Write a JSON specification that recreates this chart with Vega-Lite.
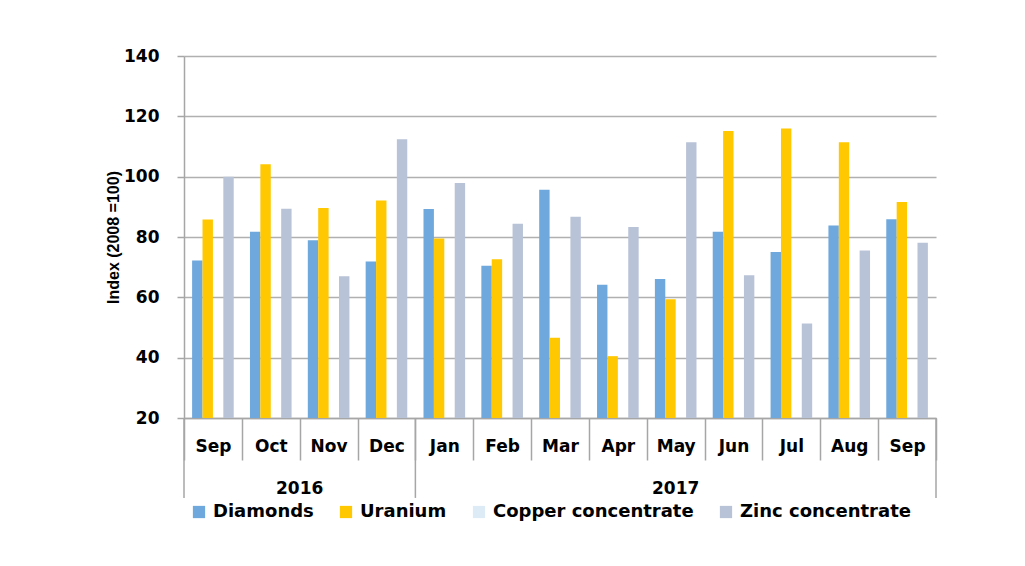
{
  "$schema": "https://vega.github.io/schema/vega-lite/v6.json",
  "width": 752,
  "height": 362,
  "autosize": {"type": "none"},
  "padding": {"left": 184, "top": 56, "right": 89, "bottom": 148},
  "background": "white",
  "config": {"view": {"stroke": null}, "font": "DejaVu Sans"},
  "datasets": {
    "bars": [
      {"period": "Sep 2016", "series": "Diamonds", "value": 72.2},
      {"period": "Sep 2016", "series": "Uranium", "value": 85.8},
      {"period": "Sep 2016", "series": "Copper concentrate", "value": 20},
      {"period": "Sep 2016", "series": "Zinc concentrate", "value": 100.0},
      {"period": "Oct 2016", "series": "Diamonds", "value": 81.7},
      {"period": "Oct 2016", "series": "Uranium", "value": 104.1},
      {"period": "Oct 2016", "series": "Copper concentrate", "value": 20},
      {"period": "Oct 2016", "series": "Zinc concentrate", "value": 89.4},
      {"period": "Nov 2016", "series": "Diamonds", "value": 78.9},
      {"period": "Nov 2016", "series": "Uranium", "value": 89.6},
      {"period": "Nov 2016", "series": "Copper concentrate", "value": 20},
      {"period": "Nov 2016", "series": "Zinc concentrate", "value": 67.0},
      {"period": "Dec 2016", "series": "Diamonds", "value": 71.9},
      {"period": "Dec 2016", "series": "Uranium", "value": 92.1},
      {"period": "Dec 2016", "series": "Copper concentrate", "value": 20},
      {"period": "Dec 2016", "series": "Zinc concentrate", "value": 112.4},
      {"period": "Jan 2017", "series": "Diamonds", "value": 89.3},
      {"period": "Jan 2017", "series": "Uranium", "value": 79.5},
      {"period": "Jan 2017", "series": "Copper concentrate", "value": 20},
      {"period": "Jan 2017", "series": "Zinc concentrate", "value": 97.9},
      {"period": "Feb 2017", "series": "Diamonds", "value": 70.5},
      {"period": "Feb 2017", "series": "Uranium", "value": 72.6},
      {"period": "Feb 2017", "series": "Copper concentrate", "value": 20},
      {"period": "Feb 2017", "series": "Zinc concentrate", "value": 84.4},
      {"period": "Mar 2017", "series": "Diamonds", "value": 95.7},
      {"period": "Mar 2017", "series": "Uranium", "value": 46.6},
      {"period": "Mar 2017", "series": "Copper concentrate", "value": 20},
      {"period": "Mar 2017", "series": "Zinc concentrate", "value": 86.7},
      {"period": "Apr 2017", "series": "Diamonds", "value": 64.2},
      {"period": "Apr 2017", "series": "Uranium", "value": 40.5},
      {"period": "Apr 2017", "series": "Copper concentrate", "value": 20},
      {"period": "Apr 2017", "series": "Zinc concentrate", "value": 83.3},
      {"period": "May 2017", "series": "Diamonds", "value": 66.1},
      {"period": "May 2017", "series": "Uranium", "value": 59.4},
      {"period": "May 2017", "series": "Copper concentrate", "value": 20},
      {"period": "May 2017", "series": "Zinc concentrate", "value": 111.4},
      {"period": "Jun 2017", "series": "Diamonds", "value": 81.7},
      {"period": "Jun 2017", "series": "Uranium", "value": 115.1},
      {"period": "Jun 2017", "series": "Copper concentrate", "value": 20},
      {"period": "Jun 2017", "series": "Zinc concentrate", "value": 67.3},
      {"period": "Jul 2017", "series": "Diamonds", "value": 75.0},
      {"period": "Jul 2017", "series": "Uranium", "value": 116.0},
      {"period": "Jul 2017", "series": "Copper concentrate", "value": 20},
      {"period": "Jul 2017", "series": "Zinc concentrate", "value": 51.3},
      {"period": "Aug 2017", "series": "Diamonds", "value": 83.8},
      {"period": "Aug 2017", "series": "Uranium", "value": 111.4},
      {"period": "Aug 2017", "series": "Copper concentrate", "value": 20},
      {"period": "Aug 2017", "series": "Zinc concentrate", "value": 75.5},
      {"period": "Sep 2017", "series": "Diamonds", "value": 85.9},
      {"period": "Sep 2017", "series": "Uranium", "value": 91.6},
      {"period": "Sep 2017", "series": "Copper concentrate", "value": 20},
      {"period": "Sep 2017", "series": "Zinc concentrate", "value": 78.1}
    ],
    "yearStarts": [
      {"period": "Sep 2016"},
      {"period": "Jan 2017"}
    ],
    "yearEnds": [
      {"period": "Sep 2017"}
    ],
    "year2016": [{"period": "Oct 2016", "year": "2016"}],
    "year2017": [{"period": "May 2017", "year": "2017"}]
  },
  "layer": [
    {
      "data": {"name": "bars"},
      "mark": {"type": "bar"},
      "encoding": {
        "x": {
          "field": "period",
          "type": "nominal",
          "sort": ["Sep 2016", "Oct 2016", "Nov 2016", "Dec 2016", "Jan 2017", "Feb 2017", "Mar 2017", "Apr 2017", "May 2017", "Jun 2017", "Jul 2017", "Aug 2017", "Sep 2017"],
          "scale": {"paddingInner": 0, "paddingOuter": 0},
          "axis": {
            "title": null,
            "labelExpr": "slice(datum.label, 0, 3)",
            "labelAngle": 0,
            "tickBand": "extent",
            "tickSize": 42,
            "tickColor": "#a6a6a6",
            "tickWidth": 1.5,
            "domainColor": "#a6a6a6",
            "domainWidth": 1.5,
            "labelFont": "DejaVu Sans",
            "labelFontWeight": "bold",
            "labelFontSize": 17,
            "labelColor": "#000000",
            "labelPadding": -22,
            "labelBaseline": "top"
          }
        },
        "xOffset": {
          "field": "series",
          "sort": ["Diamonds", "Uranium", "Copper concentrate", "Zinc concentrate"],
          "scale": {"paddingInner": 0, "paddingOuter": 0.78}
        },
        "y": {
          "field": "value",
          "type": "quantitative",
          "scale": {"domain": [20, 140], "nice": false, "zero": false},
          "axis": {
            "title": "Index (2008 =100)",
            "titleFont": "Liberation Sans",
            "titleFontWeight": "bold",
            "titleFontSize": 16,
            "titleColor": "#000000",
            "titlePadding": 2,
            "values": [20, 40, 60, 80, 100, 120, 140],
            "labelFont": "DejaVu Sans",
            "labelFontWeight": "bold",
            "labelFontSize": 17,
            "labelColor": "#000000",
            "labelPadding": 18,
            "tickSize": 7,
            "tickColor": "#a6a6a6",
            "tickWidth": 1.5,
            "domainColor": "#a6a6a6",
            "domainWidth": 1.5,
            "grid": true,
            "gridColor": "#b0b0b0",
            "gridWidth": 1.5
          }
        },
        "y2": {"datum": 20},
        "color": {
          "field": "series",
          "type": "nominal",
          "sort": ["Diamonds", "Uranium", "Copper concentrate", "Zinc concentrate"],
          "scale": {
            "domain": ["Diamonds", "Uranium", "Copper concentrate", "Zinc concentrate"],
            "range": ["#6fa8dc", "#ffc800", "#ddebf7", "#b9c3d7"]
          },
          "legend": {
            "title": null,
            "orient": "none",
            "legendX": 6,
            "legendY": 447,
            "direction": "horizontal",
            "columns": 4,
            "symbolType": "square",
            "symbolSize": 150,
            "symbolStrokeWidth": 0,
            "labelFont": "DejaVu Sans",
            "labelFontWeight": "bold",
            "labelFontSize": 18,
            "labelColor": "#000000",
            "labelLimit": 0,
            "labelOffset": 5,
            "columnPadding": 23
          }
        }
      }
    },
    {
      "data": {"name": "yearStarts"},
      "mark": {"type": "rule", "color": "#a6a6a6", "strokeWidth": 1.5},
      "encoding": {
        "x": {"field": "period", "type": "nominal", "bandPosition": 0,
          "sort": ["Sep 2016", "Oct 2016", "Nov 2016", "Dec 2016", "Jan 2017", "Feb 2017", "Mar 2017", "Apr 2017", "May 2017", "Jun 2017", "Jul 2017", "Aug 2017", "Sep 2017"]},
        "y": {"datum": 20},
        "y2": {"datum": -6.5}
      }
    },
    {
      "data": {"name": "yearEnds"},
      "mark": {"type": "rule", "color": "#a6a6a6", "strokeWidth": 1.5},
      "encoding": {
        "x": {"field": "period", "type": "nominal", "bandPosition": 1,
          "sort": ["Sep 2016", "Oct 2016", "Nov 2016", "Dec 2016", "Jan 2017", "Feb 2017", "Mar 2017", "Apr 2017", "May 2017", "Jun 2017", "Jul 2017", "Aug 2017", "Sep 2017"]},
        "y": {"datum": 20},
        "y2": {"datum": -6.5}
      }
    },
    {
      "data": {"name": "year2016"},
      "mark": {"type": "text", "font": "DejaVu Sans", "fontWeight": "bold", "fontSize": 17, "color": "#000000", "baseline": "middle", "align": "center", "dy": 71},
      "encoding": {
        "x": {"field": "period", "type": "nominal", "bandPosition": 1,
          "sort": ["Sep 2016", "Oct 2016", "Nov 2016", "Dec 2016", "Jan 2017", "Feb 2017", "Mar 2017", "Apr 2017", "May 2017", "Jun 2017", "Jul 2017", "Aug 2017", "Sep 2017"]},
        "y": {"datum": 20},
        "text": {"field": "year"}
      }
    },
    {
      "data": {"name": "year2017"},
      "mark": {"type": "text", "font": "DejaVu Sans", "fontWeight": "bold", "fontSize": 17, "color": "#000000", "baseline": "middle", "align": "center", "dy": 71},
      "encoding": {
        "x": {"field": "period", "type": "nominal", "bandPosition": 0.5,
          "sort": ["Sep 2016", "Oct 2016", "Nov 2016", "Dec 2016", "Jan 2017", "Feb 2017", "Mar 2017", "Apr 2017", "May 2017", "Jun 2017", "Jul 2017", "Aug 2017", "Sep 2017"]},
        "y": {"datum": 20},
        "text": {"field": "year"}
      }
    }
  ]
}
